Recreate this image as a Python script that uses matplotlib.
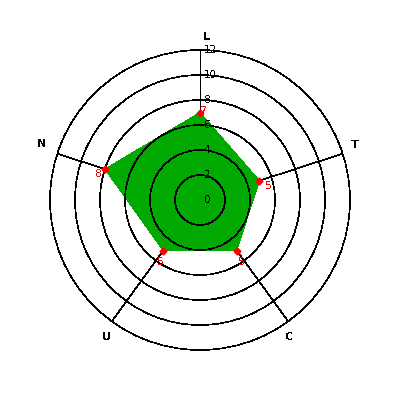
import numpy as np
import matplotlib
matplotlib.use("Agg")
import matplotlib.pyplot as plt

categories = ["L", "T", "C", "U", "N"]
values = [7, 5, 5, 5, 8]
r_ticks = [0, 2, 4, 6, 8, 10, 12]
r_tick_labels = ["0", "2", "4", "6", "8", "10", "12"]

plt.rcParams["text.antialiased"] = False
plt.rcParams["lines.antialiased"] = False
plt.rcParams["patch.antialiased"] = False
plt.rcParams["font.family"] = ["DejaVu Sans"]

fig = plt.figure(figsize=(4, 4), dpi=100)
ax = fig.add_axes([0.125, 0.125, 0.75, 0.75], projection="polar")
ax.set_theta_zero_location("N")
ax.set_theta_direction(-1)

n = len(categories)
angles = np.arange(n) * 2 * np.pi / n
ang_c = np.concatenate([angles, angles[:1]])
val_c = np.concatenate([values, values[:1]])

ax.fill(ang_c, val_c, color="#00aa00", zorder=1, linewidth=0)
ax.plot(angles, values, linestyle="none", marker="D", markersize=3.5,
        color="red", zorder=4)

offsets = [(4, 2), (9, -5), (5, -11), (-3, -11), (-6, -5)]
for a, v, off in zip(angles, values, offsets):
    ax.annotate(str(v), (a, v), xytext=off, textcoords="offset pixels",
                color="red", fontsize=8, ha="center", va="center", zorder=5)

ax.set_ylim(0, 12)
ax.set_yticks(r_ticks)
ax.set_yticklabels([])
for r, lab in zip(r_ticks, r_tick_labels):
    ax.annotate(lab, (0, r), xytext=(4, 0), textcoords="offset pixels",
                fontsize=7.5, ha="left", va="center", zorder=6,
                annotation_clip=False)
ax.set_xticks(angles)
ax.set_xticklabels([])

# category labels placed just outside the outer ring
cat_offsets = [(7, 13), (12, 9), (1, -16), (-5, -16), (-16, 10)]
for a, c, off in zip(angles, categories, cat_offsets):
    ax.annotate(c, (a, 12), xytext=off, textcoords="offset pixels",
                fontsize=8, fontweight="bold", ha="center", va="center",
                annotation_clip=False)

ax.xaxis.grid(True, color="black", linewidth=0.45, linestyle="-")
ax.yaxis.grid(True, color="black", linewidth=0.45, linestyle="-")
ax.xaxis.set_zorder(0.5)
ax.yaxis.set_zorder(3)
ax.spines["polar"].set_color("black")
ax.spines["polar"].set_linewidth(0.45)
ax.set_facecolor("white")

fig.savefig("out.png", dpi=100)
